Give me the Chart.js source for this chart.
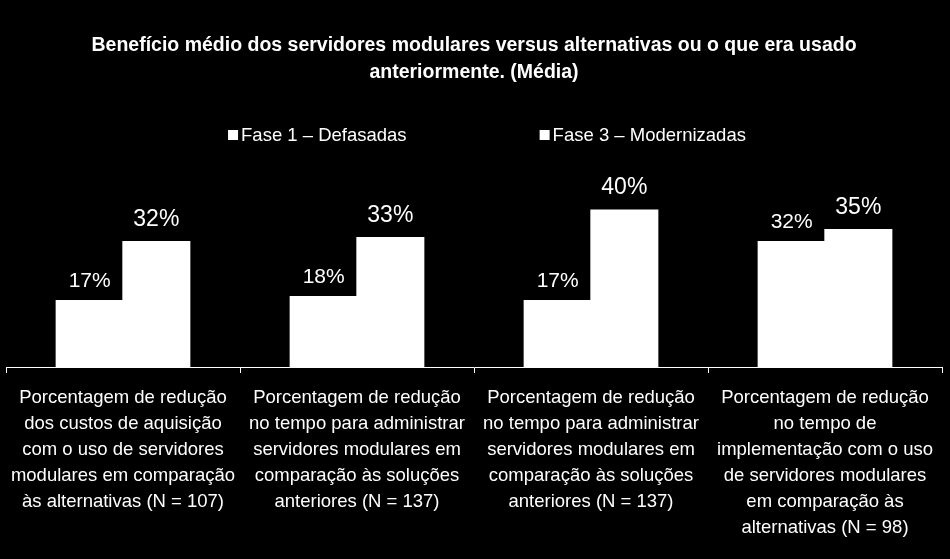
<!DOCTYPE html>
<html>
<head>
<meta charset="utf-8">
<script src="https://cdn.jsdelivr.net/npm/chart.js@4/dist/chart.umd.min.js"></script>
<style>
  html, body { margin: 0; padding: 0; background: #000; }
  #wrap { width: 950px; height: 559px; position: relative; background: #000; }
</style>
</head>
<body>
<div id="wrap"><canvas id="benefitChart"></canvas></div>
<script>
// Chart data
const titleLines = [
    'Benefício médio dos servidores modulares versus alternativas ou o que era usado',
    'anteriormente. (Média)'
];
const categories = [
    ['Porcentagem de redução', 'dos custos de aquisição', 'com o uso de servidores', 'modulares em comparação', 'às alternativas (N = 107)'],
    ['Porcentagem de redução', 'no tempo para administrar', 'servidores modulares em', 'comparação às soluções', 'anteriores (N = 137)'],
    ['Porcentagem de redução', 'no tempo para administrar', 'servidores modulares em', 'comparação às soluções', 'anteriores (N = 137)'],
    ['Porcentagem de redução', 'no tempo de', 'implementação com o uso', 'de servidores modulares', 'em comparação às', 'alternativas (N = 98)']
];
const seriesNames = ['Fase 1 – Defasadas', 'Fase 3 – Modernizadas'];
const fase1 = [17, 18, 17, 32];
const fase3 = [32, 33, 40, 35];

const FONT = "'Liberation Sans', Arial, sans-serif";

// draws the value above each bar
const valueLabels = {
    id: 'valueLabels',
    afterDatasetsDraw(chart) {
        const ctx = chart.ctx;
        ctx.save();
        ctx.fillStyle = '#fff';
        ctx.textAlign = 'center';
        ctx.textBaseline = 'alphabetic';
        chart.data.datasets.forEach((ds, i) => {
            const meta = chart.getDatasetMeta(i);
            ctx.font = (i === 0 ? 21 : 23) + 'px ' + FONT;
            const gap = i === 0 ? 13 : 15;
            meta.data.forEach((bar, j) => {
                ctx.fillText(ds.data[j] + '%', bar.x, bar.y - gap);
            });
        });
        ctx.restore();
    }
};

// legend with wide spacing between the two entries
const wideLegend = {
    id: 'wideLegend',
    afterDraw(chart) {
        const ctx = chart.ctx;
        ctx.save();
        ctx.font = '18.5px ' + FONT;
        ctx.textBaseline = 'middle';
        ctx.textAlign = 'left';
        const box = 10, boxGap = 3, itemGap = 133, y = 135;
        const widths = seriesNames.map(n => ctx.measureText(n).width);
        const total = widths.reduce((a, w) => a + box + boxGap + w, 0) + itemGap;
        let x = chart.width / 2 + 12 - total / 2;
        seriesNames.forEach((name, i) => {
            ctx.fillStyle = '#fff';
            ctx.fillRect(x, y - box / 2, box, box);
            ctx.fillText(name, x + box + boxGap, y + 1);
            x += box + boxGap + widths[i] + itemGap;
        });
        ctx.restore();
    }
};

const ctx = document.getElementById('benefitChart').getContext('2d');
new Chart(ctx, {
    type: 'bar',
    data: {
        labels: categories,
        datasets: [
            { label: seriesNames[0], data: fase1, backgroundColor: '#fff', borderWidth: 0 },
            { label: seriesNames[1], data: fase3, backgroundColor: '#fff', borderWidth: 0 }
        ]
    },
    options: {
        responsive: true,
        maintainAspectRatio: false,
        animation: false,
        layout: { padding: { left: 6, right: 8, top: 0, bottom: 6 } },
        datasets: {
            // slight overlap so the two bars touch without a seam
            bar: { categoryPercentage: 0.57, barPercentage: 1.02 }
        },
        plugins: {
            legend: { display: false },
            tooltip: { enabled: false },
            title: {
                display: true,
                text: titleLines,
                color: '#fff',
                font: { family: FONT, size: 19.5, weight: 'bold', lineHeight: 27 / 19.5 },
                padding: { top: 32, bottom: 84 }
            }
        },
        scales: {
            x: {
                afterFit: function(scale) {
                    scale.paddingLeft = 0;
                    scale.paddingRight = 0;
                },
                border: { color: '#fff', width: 1 },
                grid: {
                    drawOnChartArea: false,
                    drawTicks: true,
                    tickLength: 6,
                    color: '#fff'
                },
                ticks: {
                    color: '#fff',
                    maxRotation: 0,
                    autoSkip: false,
                    padding: 12,
                    font: { family: FONT, size: 18.5, lineHeight: 26 / 18.5 }
                }
            },
            y: {
                display: false,
                min: 0,
                max: 50
            }
        }
    },
    plugins: [valueLabels, wideLegend]
});
</script>
</body>
</html>
